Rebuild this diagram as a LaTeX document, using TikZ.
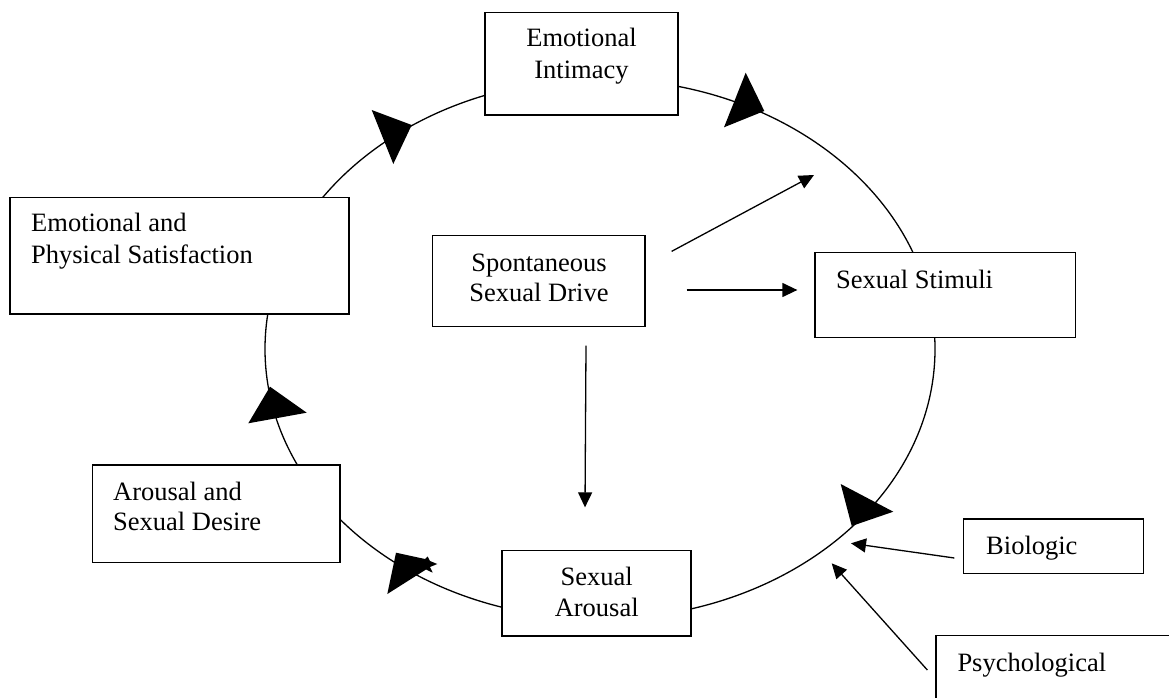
\documentclass[tikz,border=0pt]{standalone}
\usepackage{fontspec}
\setmainfont{Liberation Serif}
\usetikzlibrary{arrows.meta}
\begin{document}
\begin{tikzpicture}[x=1pt,y=-1pt,
  box/.style={draw, line width=1.3pt, fill=white, inner sep=0pt, rectangle},
  txt/.style={inner sep=0pt, font=\fontsize{26.5}{31.5}\selectfont},
  arr/.style={line width=1.3pt, -{Triangle[length=15pt,width=14pt]}},
  head/.style={fill=black, draw=none}]
\useasboundingbox (0,0) rectangle (1169,698);
\clip (0,0) rectangle (1169,698);
% cycle
\draw[line width=1.3pt] (600,349) ellipse [x radius=335pt, y radius=270pt];
% boxes
\node[box, minimum width=193pt, minimum height=102.7pt] (ei) at (581.5,63.7) {};
\node[box, minimum width=339pt, minimum height=116.7pt] (eps) at (179.5,255.65) {};
\node[box, minimum width=212.3pt, minimum height=91pt] (ssd) at (538.85,281.2) {};
\node[box, minimum width=260.7pt, minimum height=85pt] (stim) at (945.35,294.8) {};
\node[box, minimum width=247.7pt, minimum height=97.7pt] (asd) at (216.15,513.85) {};
\node[box, minimum width=189pt, minimum height=85.7pt] (sar) at (596.5,593.15) {};
\node[box, minimum width=180pt, minimum height=54.7pt] (bio) at (1053.7,546.35) {};
\node[box, minimum width=244pt, minimum height=74.3pt] (psy) at (1058,672.85) {};
% texts
\node[txt, anchor=base] at (581.5,46.7) {Emotional};
\node[txt, anchor=base] at (581.5,78.3) {Intimacy};
\node[txt, anchor=base west] at (31,231.7) {Emotional and};
\node[txt, anchor=base west] at (31,263.3) {Physical Satisfaction};
\node[txt, anchor=base] at (539,271.3) {Spontaneous};
\node[txt, anchor=base] at (539,301.7) {Sexual Drive};
\node[txt, anchor=base west] at (836,288) {Sexual Stimuli};
\node[txt, anchor=base west] at (113,500) {Arousal and};
\node[txt, anchor=base west] at (113,530.7) {Sexual Desire};
\node[txt, anchor=base] at (596.7,585) {Sexual};
\node[txt, anchor=base] at (596.7,616.7) {Arousal};
\node[txt, anchor=base west] at (986,554) {Biologic};
\node[txt, anchor=base west] at (957.3,671) {Psychological};
% arrowheads on the cycle
\fill[head] (371.7,110) -- (411.7,125) -- (393.3,164) -- cycle;
\fill[head] (745.7,72.7) -- (764.3,111) -- (724,127.3) -- cycle;
\fill[head] (270,386.7) -- (306.7,412.7) -- (248.3,423.3) -- cycle;
\fill[head] (396,552.7) -- (425,559) -- (427.7,556.5) -- (430,561) -- (437.3,564) -- (430,567) -- (432.7,572.7) -- (426,569.5) -- (387.3,594) -- cycle;
\fill[head] (840.7,484) -- (893.3,511.7) -- (851.7,526) -- cycle;
% free ends
\coordinate (diagtip) at (814,175);
\coordinate (biotip) at (851,543.3);
\coordinate (psytip) at (831.7,563.3);
% connectors
\draw[arr] ([xshift=26pt,yshift=-16.3pt]ssd.north east) -- (diagtip);
\draw[arr] ([xshift=41pt,yshift=-8.8pt]ssd.east) -- ([xshift=-17pt,yshift=4.8pt]stim.west);
\draw[arr] ([xshift=47.15pt,yshift=-18.3pt]ssd.south) -- ([xshift=-11.5pt,yshift=42.3pt]sar.north);
\draw[arr] ([xshift=-8.7pt,yshift=-11.65pt]bio.west) -- (biotip);
\draw[arr] ([xshift=-8pt,yshift=2.85pt]psy.west) -- (psytip);
\end{tikzpicture}
\end{document}
